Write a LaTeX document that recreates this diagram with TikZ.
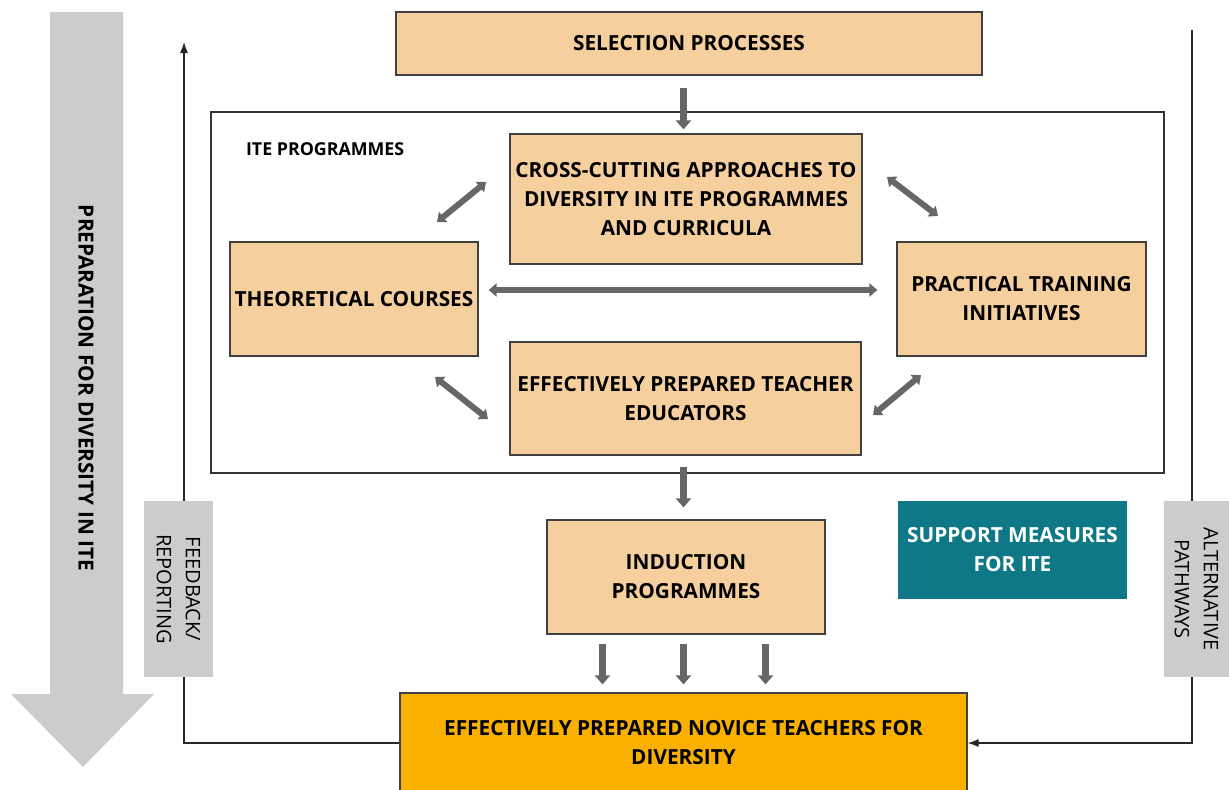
\documentclass[tikz,border=0pt]{standalone}
\usepackage{fontspec}
\setmainfont{Open Sans}
\usetikzlibrary{arrows.meta,positioning,calc}
\definecolor{peach}{HTML}{F6CF9E}
\definecolor{novice}{HTML}{F9B000}
\definecolor{teal}{HTML}{0E7886}
\definecolor{lightgray}{HTML}{CCCCCC}
\definecolor{arrowgray}{HTML}{666666}
\tikzset{font=\fontsize{10.4}{14.5}\selectfont\bfseries}
\tikzset{ibox/.style={draw=black!75, line width=0.6pt, fill=peach, align=center, inner sep=2pt}}
\tikzset{sidebox/.style={fill=lightgray, align=center, rotate=-90,
    font=\fontsize{10}{14.5}\selectfont\mdseries}}
\tikzset{fatarrow/.style={draw=arrowgray, line width=3pt,
    >={Triangle[width=6.5pt,length=4pt]}}}
\tikzset{downarrow/.style={draw=arrowgray, line width=3.5pt,
    -{Triangle[width=7.5pt,length=4.5pt]}}}
\tikzset{loopline/.style={draw=black!85, line width=0.6pt,
    -{Latex[length=5.5pt,width=4pt]}}}

\begin{document}
\begin{tikzpicture}[x=0.5pt,y=-0.5pt]
  \clip (0,0) rectangle (1229,789);

  % big arrow on the left
  \fill[lightgray] (50,12) -- (123,12) -- (123,694) -- (154,694)
    -- (83,767) -- (11,694) -- (50,694) -- cycle;
  \node[rotate=-90] (prep) at (86,388) {PREPARATION FOR DIVERSITY IN ITE};

  \coordinate(fbtop) at (184,42);
  \coordinate(alttop) at (1192,30);

  \node[ibox, minimum width=293pt, minimum height=31.5pt] (select) at (689,43.5)
    {SELECTION PROCESSES};
  \node[draw=black!80, line width=0.6pt, minimum width=476.5pt, minimum height=180.5pt]
    (ite) at (687.5,292.5) {};
  \node[font=\fontsize{8.9}{10}\selectfont\bfseries, anchor=west] (itelabel) at (239,149)
    {ITE PROGRAMMES};

  \node[ibox, minimum width=176pt, minimum height=65pt] (cross) at (686,199)
    {CROSS-CUTTING APPROACHES TO\\DIVERSITY IN ITE PROGRAMMES\\AND CURRICULA};
  \node[ibox, minimum width=124pt, minimum height=57pt] (theory) at (354,299)
    {THEORETICAL COURSES};
  \node[ibox, minimum width=124.5pt, minimum height=57pt] (practical) at (1021.5,299)
    {PRACTICAL TRAINING\\INITIATIVES};
  \node[ibox, minimum width=175.5pt, minimum height=56.5pt] (educ) at (685.5,398.5)
    {EFFECTIVELY PREPARED TEACHER\\EDUCATORS};
  \node[ibox, minimum width=139pt, minimum height=57pt] (induction) at (686,577)
    {INDUCTION\\PROGRAMMES};
  \node[fill=teal, text=white, align=center, minimum width=114.5pt, minimum height=49pt]
    (support) at (1012.5,550) {SUPPORT MEASURES\\FOR ITE};
  \node[ibox, fill=novice, minimum width=283.5pt, minimum height=50pt] (novice) at (683.5,743)
    {EFFECTIVELY PREPARED NOVICE TEACHERS FOR\\DIVERSITY};

  % feedback and alternative pathways
  \draw[loopline] (novice.west) -| (fbtop);
  \draw[loopline] (alttop) |- (novice.east);
  \node[sidebox, minimum width=88pt, minimum height=34.5pt] (feedback) at (178.5,589)
    {FEEDBACK/\\REPORTING};
  \node[sidebox, minimum width=88pt, minimum height=32.5pt] (alt) at (1196.5,589)
    {ALTERNATIVE\\PATHWAYS};

  % links inside the programmes
  \coordinate(tc1) at (437,222);
  \coordinate(tc2) at (486,182);
  \coordinate(cp1) at (887,177);
  \coordinate(cp2) at (938,216);
  \coordinate(te1) at (435,377);
  \coordinate(te2) at (488,419);
  \coordinate(ep1) at (873,415);
  \coordinate(ep2) at (921,375);

  \draw[fatarrow, <->] (tc1) -- (tc2);
  \draw[fatarrow, <->] (cp1) -- (cp2);
  \draw[fatarrow, <->] (te1) -- (te2);
  \draw[fatarrow, <->] (ep1) -- (ep2);
  \draw[fatarrow, <->, shorten <=5pt, shorten >=9.5pt]
    ([yshift=4.5pt]theory.east) -- ([yshift=4.5pt]practical.west);

  \draw[downarrow, shorten <=6pt, shorten >=2pt]
    (select.south -| novice.north) -- (cross.north -| novice.north);
  \draw[downarrow, shorten <=5.5pt, shorten >=6pt]
    (educ.south -| novice.north) -- (induction.north -| novice.north);
  \foreach \dx in {-81,0,82}
    \draw[downarrow, shorten <=4.5pt, shorten >=4pt]
      ($(induction.south -| novice.north)+(\dx,0)$) -- ($(novice.north)+(\dx,0)$);

\end{tikzpicture}
\end{document}
